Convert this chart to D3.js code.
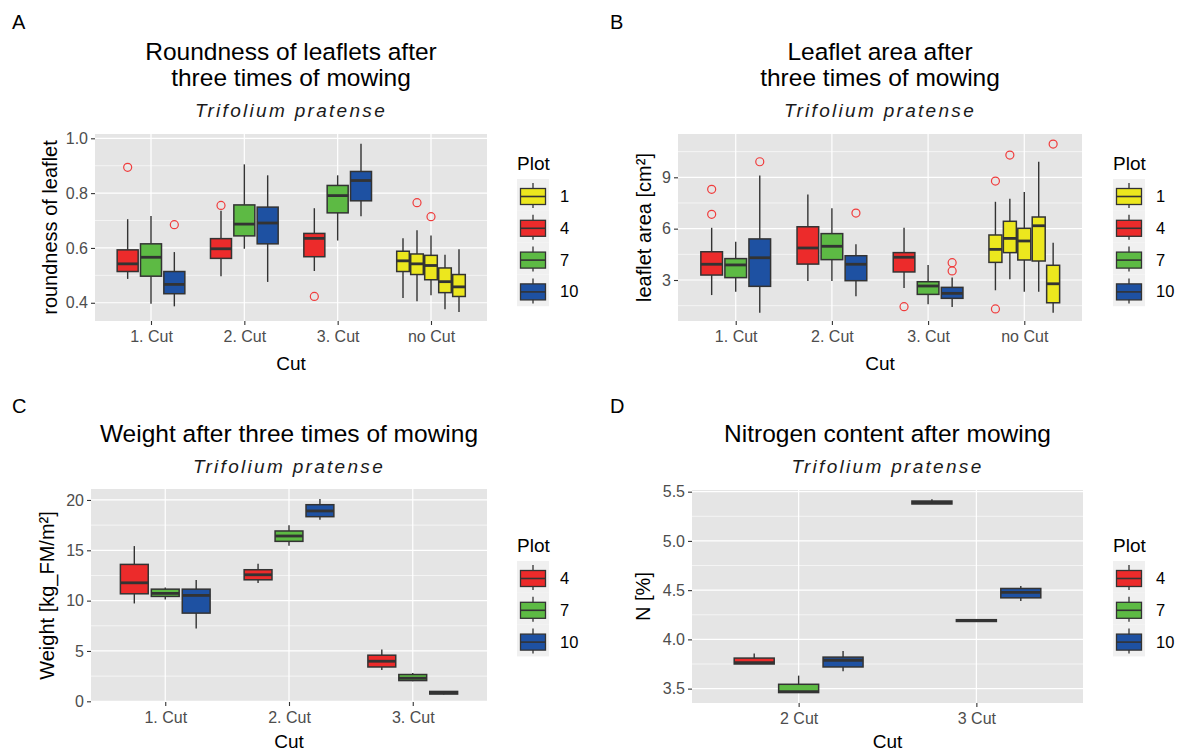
<!DOCTYPE html>
<html><head><meta charset="utf-8">
<script src="https://cdn.jsdelivr.net/npm/d3@7"></script>
<style>body{margin:0;background:#fff} text{font-family:"Liberation Sans",Arial,sans-serif}</style>
</head><body><svg id="c" width="1179" height="754"></svg>
<script>
// ---------- data ----------
const plotLevels = ["1", "4", "7", "10"];
const fillColors = ["#ECE71E", "#EC2B2B", "#5DBA44", "#1E51A2"];
const subtitle = "Trifolium pratense";

// stats: [lower whisker, Q1, median, Q3, upper whisker]
const cutsA = ["1. Cut", "2. Cut", "3. Cut", "no Cut"];
const boxesA = [
  {cut: "1. Cut", plot: "4",  stats: [0.487, 0.514, 0.542, 0.593, 0.705], out: [0.894]},
  {cut: "1. Cut", plot: "7",  stats: [0.396, 0.497, 0.566, 0.615, 0.717], out: []},
  {cut: "1. Cut", plot: "10", stats: [0.387, 0.433, 0.467, 0.514, 0.585], out: [0.685]},
  {cut: "2. Cut", plot: "4",  stats: [0.497, 0.562, 0.597, 0.634, 0.736], out: [0.755]},
  {cut: "2. Cut", plot: "7",  stats: [0.597, 0.644, 0.687, 0.757, 0.905], out: []},
  {cut: "2. Cut", plot: "10", stats: [0.476, 0.615, 0.691, 0.749, 0.865], out: []},
  {cut: "3. Cut", plot: "4",  stats: [0.516, 0.568, 0.635, 0.653, 0.745], out: [0.423]},
  {cut: "3. Cut", plot: "7",  stats: [0.627, 0.728, 0.791, 0.828, 0.865], out: []},
  {cut: "3. Cut", plot: "10", stats: [0.716, 0.772, 0.846, 0.879, 0.980], out: []},
  {cut: "no Cut", plot: "1",  stats: [0.417, 0.514, 0.553, 0.588, 0.635], out: []},
  {cut: "no Cut", plot: "1",  stats: [0.406, 0.503, 0.542, 0.578, 0.665], out: [0.765]},
  {cut: "no Cut", plot: "1",  stats: [0.427, 0.484, 0.536, 0.573, 0.645], out: [0.714]},
  {cut: "no Cut", plot: "1",  stats: [0.376, 0.437, 0.477, 0.527, 0.575], out: []},
  {cut: "no Cut", plot: "1",  stats: [0.366, 0.423, 0.458, 0.503, 0.595], out: []}
];
const yTicksA = [0.4, 0.6, 0.8, 1.0];

const cutsB = ["1. Cut", "2. Cut", "3. Cut", "no Cut"];
const boxesB = [
  {cut: "1. Cut", plot: "4",  stats: [2.12, 3.29, 3.92, 4.65, 6.05], out: [8.30, 6.84]},
  {cut: "1. Cut", plot: "7",  stats: [2.32, 3.14, 3.88, 4.25, 5.24], out: []},
  {cut: "1. Cut", plot: "10", stats: [1.09, 2.63, 4.30, 5.40, 9.11], out: [9.91]},
  {cut: "2. Cut", plot: "4",  stats: [2.94, 3.93, 4.87, 6.11, 8.00], out: []},
  {cut: "2. Cut", plot: "7",  stats: [2.94, 4.19, 4.97, 5.71, 7.19], out: []},
  {cut: "2. Cut", plot: "10", stats: [2.05, 2.96, 3.92, 4.42, 5.09], out: [6.91]},
  {cut: "3. Cut", plot: "4",  stats: [2.53, 3.47, 4.33, 4.60, 6.05], out: [1.44]},
  {cut: "3. Cut", plot: "7",  stats: [1.58, 2.16, 2.65, 2.90, 3.88], out: []},
  {cut: "3. Cut", plot: "10", stats: [1.42, 1.93, 2.22, 2.57, 3.14], out: [4.01, 3.53]},
  {cut: "no Cut", plot: "1",  stats: [2.40, 4.03, 4.79, 5.63, 7.57], out: [8.78, 1.31]},
  {cut: "no Cut", plot: "1",  stats: [3.04, 4.60, 5.43, 6.43, 7.75], out: [10.30]},
  {cut: "no Cut", plot: "1",  stats: [2.32, 4.17, 5.28, 6.02, 8.14], out: []},
  {cut: "no Cut", plot: "1",  stats: [2.32, 4.11, 6.17, 6.68, 9.91], out: []},
  {cut: "no Cut", plot: "1",  stats: [1.09, 1.67, 2.78, 3.86, 5.18], out: [10.94]}
];
const yTicksB = [3, 6, 9];

const cutsC = ["1. Cut", "2. Cut", "3. Cut"];
const boxesC = [
  {cut: "1. Cut", plot: "4",  stats: [9.72, 10.68, 11.77, 13.60, 15.42], out: []},
  {cut: "1. Cut", plot: "7",  stats: [10.12, 10.42, 10.72, 11.14, 11.31], out: []},
  {cut: "1. Cut", plot: "10", stats: [7.23, 8.76, 10.52, 11.14, 12.04], out: []},
  {cut: "2. Cut", plot: "4",  stats: [11.74, 12.07, 12.57, 13.07, 13.66], out: []},
  {cut: "2. Cut", plot: "7",  stats: [15.45, 15.89, 16.42, 16.92, 17.48], out: []},
  {cut: "2. Cut", plot: "10", stats: [18.04, 18.34, 18.91, 19.53, 20.10], out: []},
  {cut: "3. Cut", plot: "4",  stats: [3.11, 3.41, 3.98, 4.58, 5.14], out: []},
  {cut: "3. Cut", plot: "7",  stats: [1.99, 2.06, 2.29, 2.66, 2.82], out: []},
  {cut: "3. Cut", plot: "10", stats: [0.68, 0.72, 0.86, 0.98, 1.02], out: []}
];
const yTicksC = [0, 5, 10, 15, 20];

const cutsD = ["2 Cut", "3 Cut"];
const boxesD = [
  {cut: "2 Cut", plot: "4",  stats: [3.750, 3.750, 3.765, 3.810, 3.856], out: []},
  {cut: "2 Cut", plot: "7",  stats: [3.460, 3.460, 3.470, 3.544, 3.632], out: []},
  {cut: "2 Cut", plot: "10", stats: [3.676, 3.720, 3.788, 3.820, 3.883], out: []},
  {cut: "3 Cut", plot: "4",  stats: [5.375, 5.375, 5.390, 5.405, 5.423], out: []},
  {cut: "3 Cut", plot: "7",  stats: [4.182, 4.182, 4.190, 4.200, 4.200], out: []},
  {cut: "3 Cut", plot: "10", stats: [4.390, 4.422, 4.477, 4.517, 4.541], out: []}
];
const yTicksD = [3.5, 4.0, 4.5, 5.0, 5.5];

// ---------- drawing ----------
const svg = d3.select("#c");
svg.append("rect").attr("width", 1179).attr("height", 754).attr("fill", "#fff");
const color = d3.scaleOrdinal().domain(plotLevels).range(fillColors);
const panelBg = "#E5E5E5", lineCol = "#333333", tickTextCol = "#4D4D4D";

function panel(cfg) {
  const {x0, x1, y0, y1} = cfg.area;
  const g = svg.append("g");
  const x = d3.scalePoint().domain(cfg.cuts).range([x0, x1]).padding(0.6);
  const y = d3.scaleLinear().domain(cfg.yDomain).range([y1, y0]);
  g.append("rect").attr("x", x0).attr("y", y0).attr("width", x1 - x0).attr("height", y1 - y0).attr("fill", panelBg);
  const step = cfg.yTicks[1] - cfg.yTicks[0];
  const minor = [cfg.yTicks[0] - step / 2, ...cfg.yTicks.map(v => v + step / 2)]
    .filter(v => v >= cfg.yDomain[0] && v <= cfg.yDomain[1]);
  g.selectAll(".mn").data(minor).join("line")
    .attr("x1", x0).attr("x2", x1).attr("y1", d => y(d)).attr("y2", d => y(d))
    .attr("stroke", "#fff").attr("stroke-width", 0.6);
  g.selectAll(".mj").data(cfg.yTicks).join("line")
    .attr("x1", x0).attr("x2", x1).attr("y1", d => y(d)).attr("y2", d => y(d))
    .attr("stroke", "#fff").attr("stroke-width", 1.2);
  g.selectAll(".vx").data(cfg.cuts).join("line")
    .attr("x1", d => x(d)).attr("x2", d => x(d)).attr("y1", y0).attr("y2", y1)
    .attr("stroke", "#fff").attr("stroke-width", 1.2);

  const band = x.step();
  cfg.cuts.forEach(cut => {
    const bs = cfg.boxes.filter(b => b.cut === cut);
    const n = bs.length, slot = 0.75 * band / n, bw = slot * 0.9;
    bs.forEach((b, i) => {
      const cx = x(cut) + (i - (n - 1) / 2) * slot;
      const [lo, q1, md, q3, hi] = b.stats;
      const bg = g.append("g");
      bg.append("line").attr("x1", cx).attr("x2", cx).attr("y1", y(hi)).attr("y2", y(q3))
        .attr("stroke", lineCol).attr("stroke-width", 1.4);
      bg.append("line").attr("x1", cx).attr("x2", cx).attr("y1", y(q1)).attr("y2", y(lo))
        .attr("stroke", lineCol).attr("stroke-width", 1.4);
      bg.append("rect").attr("x", cx - bw / 2).attr("width", bw)
        .attr("y", y(q3)).attr("height", Math.max(0, y(q1) - y(q3)))
        .attr("fill", color(b.plot)).attr("stroke", lineCol).attr("stroke-width", 1.5);
      bg.append("line").attr("x1", cx - bw / 2).attr("x2", cx + bw / 2).attr("y1", y(md)).attr("y2", y(md))
        .attr("stroke", lineCol).attr("stroke-width", 2.8);
      bg.selectAll("circle").data(b.out).join("circle")
        .attr("cx", cx).attr("cy", d => y(d)).attr("r", 4)
        .attr("fill", "none").attr("stroke", "#F03C3C").attr("stroke-width", 1.2);
    });
  });

  // axes
  const ya = g.append("g").attr("transform", `translate(${x0},0)`)
    .call(d3.axisLeft(y).tickValues(cfg.yTicks).tickFormat(d3.format(cfg.fmt)).tickSize(4).tickPadding(3));
  const xa = g.append("g").attr("transform", `translate(0,${y1})`)
    .call(d3.axisBottom(x).tickSize(4).tickPadding(6));
  [ya, xa].forEach(a => {
    a.select(".domain").remove();
    a.selectAll(".tick line").attr("stroke", lineCol).attr("stroke-width", 1.1);
    a.selectAll(".tick text").attr("fill", tickTextCol).style("font-size", "16px")
      .style("font-family", '"Liberation Sans",Arial,sans-serif');
  });

  // labels
  const cxm = (x0 + x1) / 2;
  cfg.title.forEach((t, i) => {
    svg.append("text").attr("x", cxm).attr("y", cfg.titleY + i * 26).attr("text-anchor", "middle")
      .style("font-size", "24.5px").attr("fill", "#000").text(t);
  });
  svg.append("text").attr("x", cxm).attr("y", cfg.subY).attr("text-anchor", "middle")
    .style("font-size", "19px").style("font-style", "italic").style("letter-spacing", "2.3px")
    .attr("fill", "#1a1a1a").text(subtitle);
  svg.append("text").attr("x", cxm).attr("y", y1 + cfg.cutDy).attr("text-anchor", "middle")
    .style("font-size", "19px").text("Cut");
  svg.append("text").attr("transform", `translate(${cfg.ylabX},${(y0 + y1) / 2}) rotate(-90)`)
    .attr("text-anchor", "middle").style("font-size", "20px").text(cfg.ylab);
  svg.append("text").attr("x", cfg.letter[1]).attr("y", cfg.letter[2]).style("font-size", "20px").text(cfg.letter[0]);

  // legend
  const L = cfg.legend;
  svg.append("text").attr("x", L.x).attr("y", L.y).style("font-size", "19px").text("Plot");
  const kh = 31.8, kw = 32, top = L.y + 9;
  L.levels.forEach((lv, i) => {
    const ky = top + i * kh, kc = L.x + kw / 2;
    svg.append("rect").attr("x", L.x).attr("y", ky).attr("width", kw).attr("height", kh).attr("fill", "#F0F0F0");
    svg.append("line").attr("x1", kc).attr("x2", kc).attr("y1", ky + 4).attr("y2", ky + 29)
      .attr("stroke", lineCol).attr("stroke-width", 1.3);
    svg.append("rect").attr("x", L.x + 3.5).attr("y", ky + 9.5).attr("width", kw - 7).attr("height", 16)
      .attr("fill", color(lv)).attr("stroke", lineCol).attr("stroke-width", 1.3);
    svg.append("line").attr("x1", L.x + 3.5).attr("x2", L.x + kw - 3.5).attr("y1", ky + 17.5).attr("y2", ky + 17.5)
      .attr("stroke", lineCol).attr("stroke-width", 1.6);
    svg.append("text").attr("x", L.x + 43).attr("y", ky + 23).style("font-size", "16.5px").text(lv);
  });
}

panel({area: {x0: 95, x1: 487, y0: 134, y1: 321}, cuts: cutsA, boxes: boxesA, yDomain: [0.3335, 1.0157],
  yTicks: yTicksA, fmt: ".1f", title: ["Roundness of leaflets after", "three times of mowing"], titleY: 60, subY: 117,
  ylab: "roundness of leaflet", ylabX: 57, letter: ["A", 12, 29], cutDy: 49,
  legend: {x: 517, y: 170, levels: plotLevels}});
panel({area: {x0: 678, x1: 1082, y0: 134, y1: 321}, cuts: cutsB, boxes: boxesB, yDomain: [0.605, 11.53],
  yTicks: yTicksB, fmt: "d", title: ["Leaflet area after", "three times of mowing"], titleY: 60, subY: 117,
  ylab: "leaflet area [cm²]", ylabX: 651, letter: ["B", 610, 29], cutDy: 49,
  legend: {x: 1113, y: 170, levels: plotLevels}});
panel({area: {x0: 91, x1: 487, y0: 489, y1: 702}, cuts: cutsC, boxes: boxesC, yDomain: [-0.07, 21.09],
  yTicks: yTicksC, fmt: "d", title: ["Weight after three times of mowing"], titleY: 442, subY: 473,
  ylab: "Weight [kg_FM/m²]", ylabX: 54, letter: ["C", 12, 413], cutDy: 46,
  legend: {x: 517, y: 552, levels: ["4", "7", "10"]}});
panel({area: {x0: 692, x1: 1083, y0: 490, y1: 703}, cuts: cutsD, boxes: boxesD, yDomain: [3.354, 5.517],
  yTicks: yTicksD, fmt: ".1f", title: ["Nitrogen content after mowing"], titleY: 442, subY: 473,
  ylab: "N [%]", ylabX: 650, letter: ["D", 610, 413], cutDy: 45,
  legend: {x: 1113, y: 552, levels: ["4", "7", "10"]}});
</script></body></html>
